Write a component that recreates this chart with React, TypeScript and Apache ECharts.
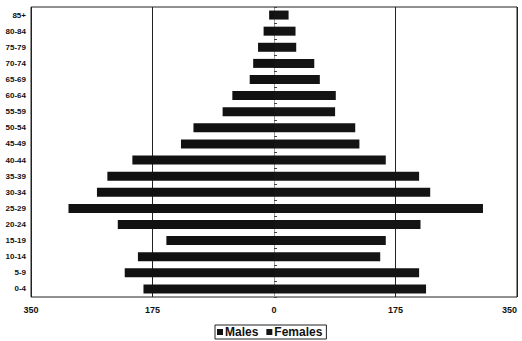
import React, { useEffect, useRef } from "react";
import * as echarts from "echarts";

const ageGroups = ["0-4","5-9","10-14","15-19","20-24","25-29","30-34","35-39","40-44","45-49","50-54","55-59","60-64","65-69","70-74","75-79","80-84","85+"];
const males = [188,215,196,155,225,296,255,240,204,134,116,74,60,35,30,23,15,7];
const females = [219,209,153,161,211,301,225,209,161,123,117,88,89,66,58,32,31,21];
const tickValues = [-350,-175,0,175,350];

export default function App() {
  const ref = useRef<HTMLDivElement>(null);
  useEffect(() => {
    document.body.style.margin = "0";
    const chart = echarts.init(ref.current!, null, { renderer: "svg" });
    const font = "Liberation Sans";
    chart.setOption({
      animation: false,
      backgroundColor: "#fff",
      grid: { left: 31, right: 5, top: 7, bottom: 44, show: true, borderColor: "#222", borderWidth: 1, outerBoundsMode: "none", containLabel: false },
      legend: {
        bottom: 2,
        left: 215,
        data: ["Males", "Females"],
        borderColor: "#222",
        borderWidth: 1,
        padding: [1, 4, 1, 2],
        itemWidth: 6,
        itemHeight: 6,
        itemGap: 8,
        icon: "rect",
        textStyle: { fontFamily: font, fontWeight: "bold", fontSize: 12, color: "#111", padding: [0, 0, 0, -3] },
      },
      xAxis: {
        type: "value",
        min: tickValues[0],
        max: tickValues[tickValues.length - 1],
        interval: 175,
        axisLine: { show: false },
        axisTick: { show: false },
        axisLabel: {
          formatter: (v: number) => String(Math.abs(v)),
          fontFamily: font, fontWeight: "bold", fontSize: 9, color: "#111", margin: 8,
          alignMaxLabel: "right",
        },
        splitLine: { show: true, lineStyle: { color: ["#222", "#222", "#999", "#222", "#222"], width: 1 } },
      },
      yAxis: [
        {
          type: "category",
          data: ageGroups,
          position: "left",
          axisLine: { show: false, onZero: false },
          axisTick: { show: false },
          axisLabel: { fontFamily: font, fontWeight: "bold", fontSize: 8, color: "#111", margin: 5 },
        },
        {
          type: "category",
          data: ageGroups,
          axisLine: { show: false, onZero: true },
          axisTick: { show: true, inside: false, length: 3, lineStyle: { color: "#444" } },
          axisLabel: { show: false },
        },
      ],
      series: [
        {
          name: "Males",
          type: "bar",
          stack: "pop",
          barWidth: 9,
          data: males.map((v) => -v),
          itemStyle: { color: "#111" },
        },
        {
          name: "Females",
          type: "bar",
          stack: "pop",
          barWidth: 9,
          data: females,
          itemStyle: { color: "#141414" },
        },
      ],
    });
    return () => chart.dispose();
  }, []);
  return <div ref={ref} style={{ width: 522, height: 341 }} />;
}
